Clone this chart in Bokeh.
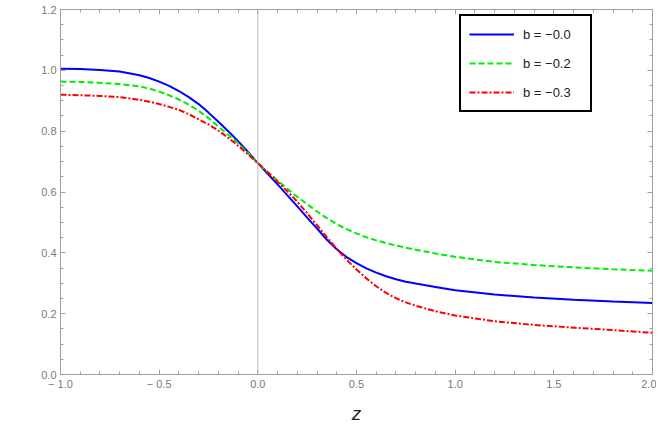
import math
from bokeh.plotting import figure
from bokeh.models import (Legend, LegendItem, LinearAxis, FixedTicker, CustomJSTickFormatter,
                          Span, Label, Range1d)
from bokeh.embed import file_html
from bokeh.resources import INLINE

# ---- data ----
z = [-1.0, -0.9, -0.8, -0.7, -0.6, -0.55, -0.5, -0.45, -0.4, -0.35, -0.3, -0.25, -0.2,
     -0.15, -0.1, -0.05, 0.0, 0.05, 0.1, 0.15, 0.2, 0.25, 0.3, 0.35, 0.4, 0.45, 0.5,
     0.55, 0.6, 0.65, 0.7, 0.75, 0.8, 0.9, 1.0, 1.2, 1.4, 1.6, 1.8, 2.0]
omega_b00 = [1.005, 1.004, 1.001, 0.996, 0.984, 0.975, 0.963, 0.949, 0.932, 0.912, 0.889,
             0.861, 0.831, 0.800, 0.767, 0.732, 0.695, 0.660, 0.625, 0.589, 0.553, 0.516,
             0.480, 0.443, 0.412, 0.386, 0.366, 0.349, 0.335, 0.323, 0.313, 0.305, 0.299,
             0.288, 0.277, 0.263, 0.253, 0.246, 0.240, 0.235]
omega_b02 = [0.963, 0.962, 0.959, 0.955, 0.947, 0.940, 0.930, 0.918, 0.904, 0.887, 0.867,
             0.843, 0.815, 0.788, 0.760, 0.728, 0.695, 0.666, 0.638, 0.611, 0.584, 0.560,
             0.536, 0.514, 0.494, 0.478, 0.464, 0.451, 0.441, 0.432, 0.424, 0.417, 0.410,
             0.398, 0.387, 0.370, 0.360, 0.352, 0.346, 0.341]
omega_b03 = [0.920, 0.918, 0.916, 0.912, 0.903, 0.897, 0.889, 0.880, 0.870, 0.856, 0.839,
             0.822, 0.802, 0.778, 0.752, 0.724, 0.695, 0.665, 0.634, 0.602, 0.568, 0.530,
             0.491, 0.451, 0.413, 0.377, 0.345, 0.316, 0.290, 0.268, 0.251, 0.237, 0.226,
             0.208, 0.194, 0.175, 0.163, 0.154, 0.146, 0.137]
labels = ["b = \u22120.0", "b = \u22120.2", "b = \u22120.3"]
x_ticks = [-1.0, -0.5, 0.0, 0.5, 1.0, 1.5, 2.0]
y_ticks = [0.0, 0.2, 0.4, 0.6, 0.8, 1.0, 1.2]
x_minor = [round(-1.0 + 0.1 * i, 2) for i in range(31)]
y_minor = [round(0.05 * i, 2) for i in range(25)]

AX = "#a0a0a0"
LBL = "#7a7a7a"

p = figure(width=656, height=426, output_backend="svg", toolbar_location=None,
           x_range=Range1d(-1.0, 2.0), y_range=Range1d(0.0, 1.2),
           min_border_left=60, min_border_right=4, min_border_top=9, min_border_bottom=46)
p.xgrid.visible = False
p.ygrid.visible = False
p.outline_line_color = AX
p.outline_line_width = 1
p.background_fill_color = "white"
p.border_fill_color = "white"

fmt = CustomJSTickFormatter(code="""
var s = Math.abs(tick).toFixed(1);
return tick < -1e-9 ? "\u2212 " + s : s;
""")
empty = CustomJSTickFormatter(code="return ' ';")

def style(ax, ticks, minor, labels_on):
    ax.ticker = FixedTicker(ticks=ticks, minor_ticks=minor)
    ax.axis_line_color = AX
    ax.axis_line_width = 1
    ax.major_tick_line_color = AX
    ax.minor_tick_line_color = AX
    ax.major_tick_in = 5
    ax.major_tick_out = 0
    ax.minor_tick_in = 3
    ax.minor_tick_out = 0
    if labels_on:
        ax.formatter = fmt
        ax.major_label_text_color = LBL
        ax.major_label_text_font = "Liberation Sans"
        ax.major_label_text_font_size = "11px"
    else:
        ax.formatter = empty
        ax.major_label_text_font_size = "1px"
        ax.major_label_standoff = 0

xa = p.xaxis[0]
ya = p.yaxis[0]
style(xa, x_ticks, x_minor, True)
style(ya, y_ticks, y_minor, True)
xa.major_label_standoff = 3
ya.major_label_standoff = 4
xa.axis_label = "z"
xa.axis_label_text_font = "Liberation Sans"
xa.axis_label_text_font_style = "italic"
xa.axis_label_text_font_size = "19px"
xa.axis_label_text_color = "#222222"
xa.axis_label_standoff = 10

top = LinearAxis()
right = LinearAxis()
style(top, x_ticks, x_minor, False)
style(right, y_ticks, y_minor, False)
p.add_layout(top, "above")
p.add_layout(right, "right")

# vertical line at z = 0
p.add_layout(Span(location=0.0, dimension="height", line_color="#bbbbbb", line_width=1))

# y-axis label: Omega with subscript D
p.add_layout(Label(x=-1.0, y=0.57, x_offset=-42, text="\u03a9", angle=math.pi / 2,
                   text_align="center", text_baseline="middle", text_font="Liberation Sans",
                   text_font_size="20px", text_color="#222222"))
p.add_layout(Label(x=-1.0, y=0.623, x_offset=-35, text="D", angle=math.pi / 2,
                   text_align="center", text_baseline="middle", text_font="Liberation Sans",
                   text_font_style="italic", text_font_size="13px", text_color="#222222"))

r1 = p.line(z, omega_b00, line_color="#0000ff", line_width=2)
r2 = p.line(z, omega_b02, line_color="#00ee00", line_width=2, line_dash="6 3")
r3 = p.line(z, omega_b03, line_color="#ff0000", line_width=2, line_dash="6 2 2 2")

legend = Legend(items=[LegendItem(label=labels[0], renderers=[r1]),
                       LegendItem(label=labels[1], renderers=[r2]),
                       LegendItem(label=labels[2], renderers=[r3])],
                location=(399, 262), border_line_color="#000000", border_line_width=2.5,
                border_line_alpha=1.0,
                background_fill_color="white", background_fill_alpha=1.0,
                padding=8, margin=0, spacing=9, glyph_width=45, glyph_height=20,
                label_height=20, label_width=59, label_standoff=9,
                label_text_font="Liberation Sans",
                label_text_font_size="13px", label_text_color="#222222")
p.add_layout(legend, "center")

open("out.html", "w").write(file_html(p, INLINE))
